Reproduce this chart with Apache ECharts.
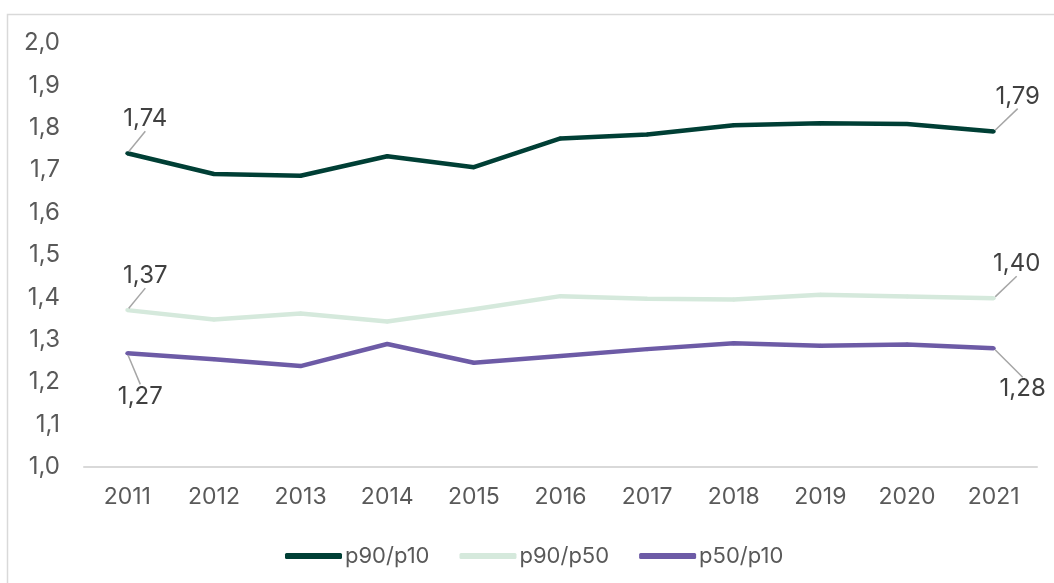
<!DOCTYPE html>
<html>
<head>
<meta charset="utf-8">
<script src="https://cdn.jsdelivr.net/npm/echarts@6/dist/echarts.min.js"></script>
<style>
  html, body { margin: 0; padding: 0; background: #fff; }
  #chart { width: 1054px; height: 583px; }
</style>
</head>
<body>
<div id="chart"></div>
<script>
// data
const years = ['2011', '2012', '2013', '2014', '2015', '2016', '2017', '2018', '2019', '2020', '2021'];
const p90p10 = [1.740, 1.691, 1.687, 1.733, 1.707, 1.775, 1.784, 1.806, 1.811, 1.809, 1.791];
const p90p50 = [1.370, 1.348, 1.362, 1.343, 1.372, 1.403, 1.397, 1.395, 1.406, 1.402, 1.398];
const p50p10 = [1.268, 1.254, 1.238, 1.290, 1.246, 1.262, 1.278, 1.292, 1.286, 1.289, 1.280];
const seriesNames = ['p90/p10', 'p90/p50', 'p50/p10'];

const fmt = v => v.toFixed(2).replace('.', ',');

// only first and last point get a label, each with its own offset
function withEndLabels(values) {
  return values.map((v, i) => {
    if (i === 0 || i === values.length - 1) {
      return { value: v, label: { show: true } };
    }
    return v;
  });
}

function makeSeries(name, values, color, offsets) {
  return {
    name: name,
    type: 'line',
    data: withEndLabels(values),
    symbol: 'circle',
    symbolSize: 4,
    showSymbol: true,
    itemStyle: { color: color },
    lineStyle: { color: color, width: 4.5 },
    label: {
      show: false,
      position: 'inside',
      fontFamily: 'Inter',
      fontSize: 24,
      color: '#404040',
      formatter: p => fmt(p.value)
    },
    labelLine: {
      show: true,
      lineStyle: { color: '#a6a6a6', width: 1.5 }
    },
    labelLayout: function (params) {
      const o = params.dataIndex === 0 ? offsets[0] : offsets[1];
      return { dx: o[0], dy: o[1] };
    },
    emphasis: { disabled: true },
    animation: false
  };
}

const chart = echarts.init(document.getElementById('chart'));
chart.setOption({
  animation: false,
  graphic: [{
    type: 'rect',
    shape: { x: 7.5, y: 14.5, width: 1070, height: 600 },
    style: { fill: 'none', stroke: '#d9d9d9', lineWidth: 1.5 },
    silent: true
  }],
  grid: { left: 84, right: 17, top: 43, bottom: 116 },
  legend: {
    top: 540,
    left: 280,
    itemWidth: 57,
    itemHeight: 6,
    itemGap: 30,
    itemStyle: { borderWidth: 0 },
    icon: 'roundRect',
    textStyle: { fontFamily: 'Inter', fontSize: 22, color: '#595959', padding: [0, 0, 0, -2] },
    data: seriesNames
  },
  xAxis: {
    type: 'category',
    data: years,
    boundaryGap: true,
    axisLine: { lineStyle: { color: '#d9d9d9', width: 2 } },
    axisTick: { show: false },
    axisLabel: { fontFamily: 'Inter', fontSize: 23, color: '#595959', margin: 19 }
  },
  yAxis: {
    type: 'value',
    min: 1,
    max: 2,
    interval: 0.1,
    splitLine: { show: false },
    axisLine: { show: false },
    axisTick: { show: false },
    axisLabel: {
      fontFamily: 'Inter',
      fontSize: 24,
      color: '#595959',
      margin: 24,
      formatter: v => v.toFixed(1).replace('.', ',')
    }
  },
  series: [
    makeSeries(seriesNames[0], p90p10, '#003f35', [[18, -34], [24, -35]]),
    makeSeries(seriesNames[1], p90p50, '#d5e9dc', [[18, -34], [23, -34]]),
    makeSeries(seriesNames[2], p50p10, '#6d5ba6', [[13, 43], [29, 41]])
  ]
});
</script>
</body>
</html>
